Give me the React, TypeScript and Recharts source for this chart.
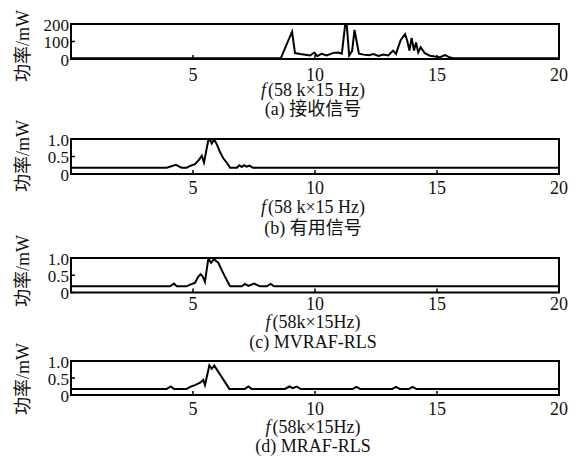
import React from 'react';
import { LineChart, Line, XAxis, YAxis, ReferenceArea } from 'recharts';

// ---- data ----
const xTicks = [5, 10, 15, 20];

const freqA = [0, 8.6, 9.06, 9.18, 9.4, 9.6, 9.8, 9.97, 10.1, 10.27, 10.48, 10.75, 10.95, 11.1, 11.24, 11.3, 11.4, 11.52, 11.62, 11.8, 12.0, 12.2, 12.4, 12.6, 12.8, 13.0, 13.2, 13.32, 13.41, 13.51, 13.69, 13.78, 13.87, 13.96, 14.06, 14.14, 14.23, 14.33, 14.5, 14.71, 14.92, 15.12, 15.33, 15.53, 15.7, 20];
const powerA = [5, 5, 156, 34, 28, 24, 20, 37, 16, 30, 20, 35, 37, 30, 200, 198, 20, 45, 166, 30, 25, 22, 28, 18, 25, 20, 48, 29, 67, 108, 142, 104, 48, 120, 48, 95, 38, 67, 33, 19, 14, 10, 22, 8, 5, 5];
const yTicksA = [0, 100, 200];
const yTickLabelsA = ['0', '100', '200'];

const freqB = [0, 3.92, 4.3, 4.53, 4.74, 4.88, 5.08, 5.26, 5.36, 5.45, 5.63, 5.7, 5.77, 5.86, 5.97, 6.11, 6.24, 6.41, 6.52, 6.8, 6.9, 7.0, 7.09, 7.2, 7.31, 7.45, 20];
const powerB = [0.18, 0.18, 0.26, 0.18, 0.18, 0.23, 0.28, 0.42, 0.52, 0.33, 0.98, 0.97, 0.87, 0.99, 0.86, 0.62, 0.45, 0.3, 0.18, 0.18, 0.25, 0.2, 0.25, 0.21, 0.24, 0.18, 0.18];

const freqC = [0, 4.06, 4.22, 4.33, 4.74, 4.88, 5.08, 5.22, 5.31, 5.4, 5.49, 5.63, 5.74, 5.86, 5.97, 6.04, 6.17, 6.31, 6.52, 7.0, 7.13, 7.27, 7.5, 7.75, 8.02, 8.18, 8.32, 20];
const powerC = [0.18, 0.18, 0.26, 0.18, 0.18, 0.23, 0.28, 0.46, 0.53, 0.46, 0.31, 0.99, 0.86, 0.97, 0.9, 0.86, 0.66, 0.46, 0.18, 0.18, 0.25, 0.19, 0.26, 0.18, 0.18, 0.25, 0.18, 0.18];

const freqD = [0, 3.92, 4.09, 4.22, 4.74, 4.88, 5.08, 5.29, 5.42, 5.49, 5.67, 5.77, 5.87, 6.49, 7.13, 7.27, 7.4, 8.77, 8.95, 9.09, 9.25, 9.41, 11.55, 11.7, 11.85, 13.17, 13.32, 13.47, 13.85, 14.0, 14.15, 20];
const powerD = [0.18, 0.18, 0.25, 0.18, 0.18, 0.24, 0.29, 0.36, 0.44, 0.29, 0.87, 0.77, 0.87, 0.18, 0.18, 0.25, 0.18, 0.18, 0.25, 0.2, 0.25, 0.18, 0.18, 0.24, 0.18, 0.18, 0.24, 0.18, 0.18, 0.24, 0.18, 0.18];

const yTicksUnit = [0, 0.5, 1];
const yTickLabelsUnit = ['0', '0.5', '1.0'];

const yLabel = '功率/mW';
const axisTitleSpaced = '(58 k×15 Hz)';
const axisTitleTight = '(58k×15Hz)';
const captions = ['(a) 接收信号', '(b) 有用信号', '(c) MVRAF-RLS', '(d) MRAF-RLS'];

const zip = (xs: number[], ys: number[]) => xs.map((x, i) => ({ x, y: ys[i] }));

// ---- layout ----
const FONT = "'Liberation Serif', 'Noto Sans CJK SC', serif";
const PLOT_LEFT = 71;
const PLOT_RIGHT = 559;
const W = 580;
const Y_AXIS_W = 40;
const X_AXIS_H = 30;
const TOP_PAD = 20;

type Panel = {
  data: { x: number; y: number }[];
  yMax: number;
  yTicks: number[];
  yLabels: string[];
  boxTop: number;
  boxBottom: number;
  tickRow: number;
  titleRow: number;
  captionRow: number;
  yLabelCenter: number;
  title: string;
  caption: string;
};

const panels: Panel[] = [
  { data: zip(freqA, powerA), yMax: 200, yTicks: yTicksA, yLabels: yTickLabelsA, boxTop: 23.5, boxBottom: 58.5, tickRow: 74, titleRow: 90, captionRow: 109, yLabelCenter: 46, title: axisTitleSpaced, caption: captions[0] },
  { data: zip(freqB, powerB), yMax: 1, yTicks: yTicksUnit, yLabels: yTickLabelsUnit, boxTop: 138.5, boxBottom: 173.5, tickRow: 187, titleRow: 207, captionRow: 228, yLabelCenter: 156, title: axisTitleSpaced, caption: captions[1] },
  { data: zip(freqC, powerC), yMax: 1, yTicks: yTicksUnit, yLabels: yTickLabelsUnit, boxTop: 258, boxBottom: 292.5, tickRow: 304, titleRow: 322, captionRow: 342, yLabelCenter: 271, title: axisTitleTight, caption: captions[2] },
  { data: zip(freqD, powerD), yMax: 1, yTicks: yTicksUnit, yLabels: yTickLabelsUnit, boxTop: 360.5, boxBottom: 394.5, tickRow: 408, titleRow: 427, captionRow: 446, yLabelCenter: 379, title: axisTitleTight, caption: captions[3] },
];

const PanelChart = ({ p }: { p: Panel }) => {
  const chartTop = p.boxTop - TOP_PAD;
  const chartHeight = p.boxBottom - p.boxTop + TOP_PAD + X_AXIS_H;
  const labelOffset = p.tickRow - p.boxBottom;
  const XTick = (props: any) => {
    const { x, y, payload } = props;
    return (
      <g>
        <line x1={x} x2={x} y1={y} y2={y - 4} stroke="#000" strokeWidth={1.5} />
        <text x={x} y={y + labelOffset} textAnchor="middle" dominantBaseline="central" fontFamily={FONT} fontSize={18} fill="#111">
          {payload.value}
        </text>
      </g>
    );
  };
  const YTick = (props: any) => {
    const { x, y, payload, index } = props;
    const idx = p.yTicks.indexOf(payload.value);
    return (
      <g>
        <line x1={x} x2={x + 4} y1={y} y2={y} stroke="#000" strokeWidth={1.5} />
        <text x={x - 2} y={y + 1} textAnchor="end" dominantBaseline="central" fontFamily={FONT} fontSize={17} fill="#111">
          {p.yLabels[idx >= 0 ? idx : index]}
        </text>
      </g>
    );
  };
  return (
    <div style={{ position: 'absolute', left: 0, top: chartTop }}>
      <LineChart
        width={W}
        height={chartHeight}
        data={p.data}
        margin={{ top: TOP_PAD, bottom: 0, left: PLOT_LEFT - Y_AXIS_W, right: W - PLOT_RIGHT }}
      >
        <XAxis
          type="number"
          dataKey="x"
          domain={[0, 20]}
          ticks={xTicks}
          interval={0}
          height={X_AXIS_H}
          axisLine={false}
          tickLine={false}
          tickSize={0}
          tickMargin={0}
          tick={XTick}
          allowDataOverflow
        />
        <YAxis
          type="number"
          domain={[0, p.yMax]}
          ticks={p.yTicks}
          interval={0}
          width={Y_AXIS_W}
          axisLine={false}
          tickLine={false}
          tickSize={0}
          tickMargin={0}
          tick={YTick}
          allowDataOverflow
        />
        <ReferenceArea x1={0} x2={20} y1={0} y2={p.yMax} stroke="#000" strokeWidth={2} fill="none" fillOpacity={0} ifOverflow="visible" />
        <Line type="linear" dataKey="y" stroke="#000" strokeWidth={2} dot={false} isAnimationActive={false} />
      </LineChart>
    </div>
  );
};

const textStyle: React.CSSProperties = {
  position: 'absolute',
  fontFamily: FONT,
  fontSize: 18,
  color: '#111',
  textAlign: 'center',
  whiteSpace: 'nowrap',
  height: 20,
  lineHeight: '20px',
};

export default function App() {
  const cx = (PLOT_LEFT + PLOT_RIGHT) / 2 - 2;
  return (
    <div style={{ position: 'absolute', left: 0, top: 0, width: W, height: 462, background: '#fff', overflow: 'hidden' }}>
      {panels.map((p, i) => (
        <React.Fragment key={i}>
          <PanelChart p={p} />
          <div style={{ ...textStyle, left: cx - 150, width: 300, top: p.titleRow - 10 }}>
            <span style={{ fontStyle: 'italic', marginRight: 2 }}>f</span>
            {p.title}
          </div>
          <div style={{ ...textStyle, left: cx - 150, width: 300, top: p.captionRow - 10 }}>{p.caption}</div>
          <div
            style={{
              ...textStyle,
              left: 23 - 60,
              width: 120,
              top: p.yLabelCenter - 10,
              transform: 'rotate(-90deg)',
            }}
          >
            {yLabel}
          </div>
        </React.Fragment>
      ))}
    </div>
  );
}
